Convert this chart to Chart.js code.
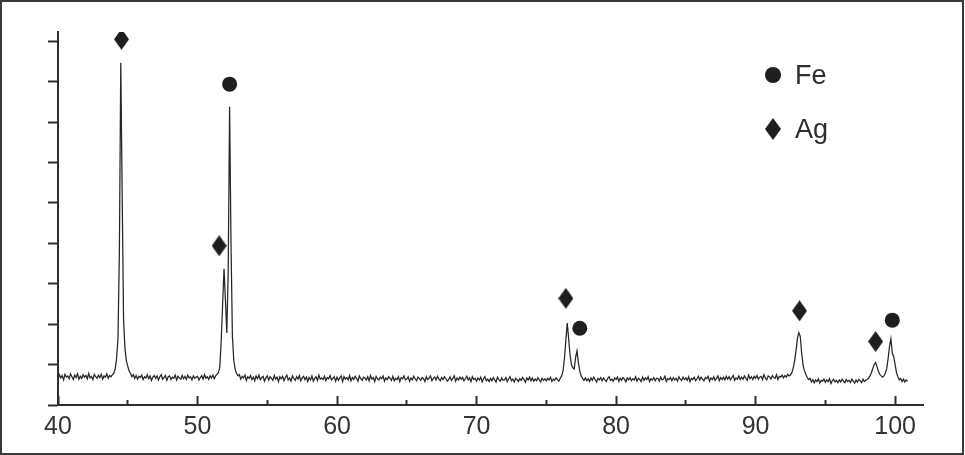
<!DOCTYPE html>
<html>
<head>
<meta charset="utf-8">
<script src="https://cdn.jsdelivr.net/npm/chart.js@4.4.1/dist/chart.umd.min.js"></script>
<style>
  html, body { margin: 0; padding: 0; background: #fff; }
  #wrap { position: relative; width: 965px; height: 455px; }
  #frame { position: absolute; left: 0; top: 0; width: 964px; height: 455px; box-sizing: border-box; border: 2px solid #3a3a3a; pointer-events: none; }
  canvas { position: absolute; left: 0; top: 0; }
</style>
</head>
<body>
<div id="wrap">
  <canvas id="xrd" width="965" height="455"></canvas>
  <div id="frame"></div>
</div>
<script>
// Diffractogram: one reading every 0.1 deg of 2-theta, from 40.0 to 100.9
// (each row below is one degree, 10 readings)
const scanStart = 40.0;
const scanStep = 0.1;
const intensity = [
  64, 75, 67, 73, 62, 76, 69, 72, 65, 77,        // 40
  70, 63, 74, 68, 77, 64, 71, 66, 75, 69,        // 41
  73, 65, 78, 67, 71, 63, 76, 70, 66, 74,        // 42
  68, 76, 64, 72, 69, 77, 66, 73, 70, 75,        // 43
  78, 90, 115, 165, 380, 847, 520, 210, 140, 110, // 44
  96, 84, 78, 70, 75, 66, 73, 64, 71, 68,        // 45
  74, 63, 70, 67, 75, 65, 72, 61, 69, 73,        // 46
  66, 72, 62, 70, 75, 64, 68, 73, 61, 70,        // 47
  72, 63, 69, 66, 74, 62, 71, 67, 64, 73,        // 48
  65, 71, 63, 74, 67, 70, 62, 72, 66, 69,        // 49
  71, 62, 68, 73, 64, 75, 66, 70, 63, 72,        // 50
  67, 74, 65, 72, 76, 80, 95, 160, 250, 337,     // 51
  260, 178, 330, 738, 400, 170, 110, 88, 78, 72, // 52
  75, 64, 71, 67, 74, 61, 70, 66, 73, 63,        // 53
  69, 60, 72, 65, 74, 63, 68, 71, 59, 67,        // 54
  72, 62, 70, 66, 61, 73, 64, 69, 58, 70,        // 55
  65, 71, 60, 68, 74, 62, 67, 59, 72, 66,        // 56
  61, 70, 64, 73, 60, 67, 71, 63, 69, 58,        // 57
  68, 62, 72, 59, 66, 70, 61, 74, 64, 67,        // 58
  63, 71, 60, 68, 65, 73, 62, 66, 70, 59,        // 59
  69, 61, 67, 72, 58, 70, 64, 68, 62, 73,        // 60
  60, 68, 63, 71, 66, 59, 72, 65, 61, 69,        // 61
  67, 62, 70, 60, 73, 64, 68, 58, 71, 65,        // 62
  62, 69, 65, 72, 59, 67, 63, 70, 66, 61,        // 63
  71, 60, 66, 63, 70, 58, 68, 65, 72, 62,        // 64
  64, 70, 59, 67, 62, 71, 65, 60, 69, 66,        // 65
  61, 68, 65, 58, 70, 63, 67, 72, 60, 66,        // 66
  69, 62, 71, 64, 60, 68, 63, 70, 65, 59,        // 67
  63, 70, 61, 66, 72, 59, 67, 62, 69, 64,        // 68
  68, 60, 65, 71, 62, 67, 58, 70, 63, 66,        // 69
  59, 67, 62, 69, 57, 65, 70, 60, 64, 58,        // 70
  66, 60, 68, 62, 57, 69, 63, 59, 67, 61,        // 71
  62, 68, 58, 65, 70, 60, 64, 57, 66, 63,        // 72
  58, 65, 61, 68, 63, 56, 67, 62, 69, 60,        // 73
  67, 59, 64, 60, 68, 62, 57, 66, 61, 65,        // 74
  60, 66, 62, 69, 58, 64, 61, 67, 63, 59,        // 75
  66, 72, 85, 115, 160, 203, 165, 125, 100, 92,  // 76
  89, 118, 134, 105, 84, 72, 66, 61, 67, 60,     // 77
  65, 58, 67, 61, 69, 63, 57, 66, 62, 68,        // 78
  60, 67, 62, 58, 66, 70, 61, 64, 59, 67,        // 79
  63, 69, 58, 66, 61, 68, 64, 57, 67, 62,        // 80
  68, 60, 65, 62, 70, 59, 66, 63, 58, 69,        // 81
  61, 67, 63, 70, 58, 65, 62, 68, 60, 66,        // 82
  66, 59, 69, 62, 64, 71, 58, 65, 63, 68,        // 83
  60, 68, 62, 66, 59, 70, 64, 61, 69, 63,        // 84
  67, 61, 70, 58, 66, 63, 69, 60, 65, 71,        // 85
  62, 69, 64, 60, 68, 65, 71, 59, 67, 63,        // 86
  70, 61, 66, 72, 60, 68, 63, 69, 62, 71,        // 87
  64, 70, 62, 68, 73, 61, 67, 64, 72, 63,        // 88
  69, 64, 72, 66, 61, 74, 65, 70, 63, 71,        // 89
  66, 73, 64, 69, 71, 63, 75, 67, 62, 72,        // 90
  70, 64, 73, 68, 66, 75, 63, 71, 69, 74,        // 91
  67, 73, 69, 76, 72, 74, 80, 92, 110, 135,      // 92
  165, 179, 170, 130, 100, 85, 76, 68, 63, 66,   // 93
  57, 63, 55, 62, 58, 65, 54, 61, 59, 64,        // 94
  56, 62, 58, 65, 53, 60, 63, 57, 61, 55,        // 95
  62, 57, 64, 59, 55, 63, 58, 61, 56, 64,        // 96
  59, 54, 62, 57, 63, 60, 55, 64, 58, 61,        // 97
  63, 66, 72, 80, 90, 100, 105, 95, 84, 76,      // 98
  72, 69, 72, 78, 90, 115, 145, 164, 128, 120,   // 99
  100, 80, 70, 62, 66, 58, 64, 57, 62, 59        // 100
];
const twoTheta = intensity.map((_, i) => +(scanStart + i * scanStep).toFixed(1));

// phase markers placed above the peaks
const feAngles = [52.3, 77.4, 99.8];
const feHeights = [794, 190, 210];
const agAngles = [44.55, 51.55, 76.4, 93.15, 98.6];
const agHeights = [905, 394, 264, 233, 157];

const phaseNames = ['Fe', 'Ag'];

const xMajorTicks = [40, 50, 60, 70, 80, 90, 100];
const xMinorTicks = [45, 55, 65, 75, 85, 95];
const yTicks = [0, 100, 200, 300, 400, 500, 600, 700, 800, 900];

const ink = '#2e2e2e';
const fontFamily = '"Liberation Sans", Arial, sans-serif';

// taller-than-wide diamond used for the Ag marks
function makeDiamond(w, h) {
    const c = document.createElement('canvas');
    c.width = w;
    c.height = h;
    const g = c.getContext('2d');
    g.fillStyle = '#1e1e1e';
    g.beginPath();
    g.moveTo(w / 2, 0);
    g.lineTo(w, h / 2);
    g.lineTo(w / 2, h);
    g.lineTo(0, h / 2);
    g.closePath();
    g.fill();
    return c;
}
const diamondMark = makeDiamond(15, 21);
const keyDiamond = makeDiamond(16, 22);

// key in the upper right of the plot
const phaseKey = {
    id: 'phaseKey',
    afterDraw(chart) {
        const { ctx, chartArea } = chart;
        const markX = chartArea.right - 150;
        const textX = chartArea.right - 128;
        const top = chartArea.top;
        ctx.save();
        ctx.fillStyle = '#1e1e1e';
        ctx.beginPath();
        ctx.arc(markX, top + 43, 8, 0, Math.PI * 2);
        ctx.fill();
        ctx.drawImage(keyDiamond, markX - keyDiamond.width / 2, top + 97 - keyDiamond.height / 2);
        ctx.fillStyle = ink;
        ctx.font = '27px ' + fontFamily;
        ctx.textBaseline = 'alphabetic';
        ctx.fillText(phaseNames[0], textX, top + 51.5);
        ctx.fillText(phaseNames[1], textX, top + 105.5);
        ctx.restore();
    }
};

const ctx = document.getElementById('xrd').getContext('2d');
new Chart(ctx, {
    type: 'line',
    data: {
        datasets: [
            {
                label: 'pattern',
                data: twoTheta.map((x, i) => ({ x, y: intensity[i] })),
                borderColor: '#262626',
                borderWidth: 1.25,
                pointRadius: 0,
                tension: 0
            },
            {
                label: phaseNames[0],
                data: feAngles.map((x, i) => ({ x, y: feHeights[i] })),
                showLine: false,
                pointStyle: 'circle',
                pointRadius: 7.5,
                backgroundColor: '#1e1e1e',
                borderWidth: 0
            },
            {
                label: phaseNames[1],
                data: agAngles.map((x, i) => ({ x, y: agHeights[i] })),
                showLine: false,
                pointStyle: diamondMark,
                pointRadius: 8,
                borderWidth: 0
            }
        ]
    },
    options: {
        responsive: false,
        animation: false,
        layout: { padding: { top: 32, right: 42, bottom: 0, left: 0 } },
        plugins: {
            legend: { display: false },
            tooltip: { enabled: false }
        },
        scales: {
            x: {
                type: 'linear',
                position: 'bottom',
                weight: 1,
                min: 40,
                max: 102,
                afterBuildTicks: s => { s.ticks = xMajorTicks.map(v => ({ value: v })); },
                afterFit: s => { s.height = 50; },
                grid: { drawOnChartArea: false, tickLength: -9, tickWidth: 2, tickColor: ink },
                border: { display: true, color: ink, width: 2 },
                ticks: {
                    padding: 16,
                    color: '#333',
                    autoSkip: false,
                    maxRotation: 0,
                    font: { family: fontFamily, size: 25 }
                }
            },
            xMinor: {
                type: 'linear',
                position: 'bottom',
                weight: 0,
                min: 40,
                max: 102,
                afterBuildTicks: s => { s.ticks = xMinorTicks.map(v => ({ value: v })); },
                afterFit: s => { s.height = 0; },
                grid: { drawOnChartArea: false, tickLength: -5, tickWidth: 2, tickColor: ink },
                border: { display: false },
                ticks: { display: false }
            },
            y: {
                type: 'linear',
                min: 0,
                max: 923,
                afterBuildTicks: s => { s.ticks = yTicks.map(v => ({ value: v })); },
                afterFit: s => { s.width = 58; },
                grid: { drawOnChartArea: false, tickLength: 10, tickWidth: 2, tickColor: ink },
                border: { display: true, color: ink, width: 2 },
                ticks: { display: false }
            }
        }
    },
    plugins: [phaseKey]
});
</script>
</body>
</html>
